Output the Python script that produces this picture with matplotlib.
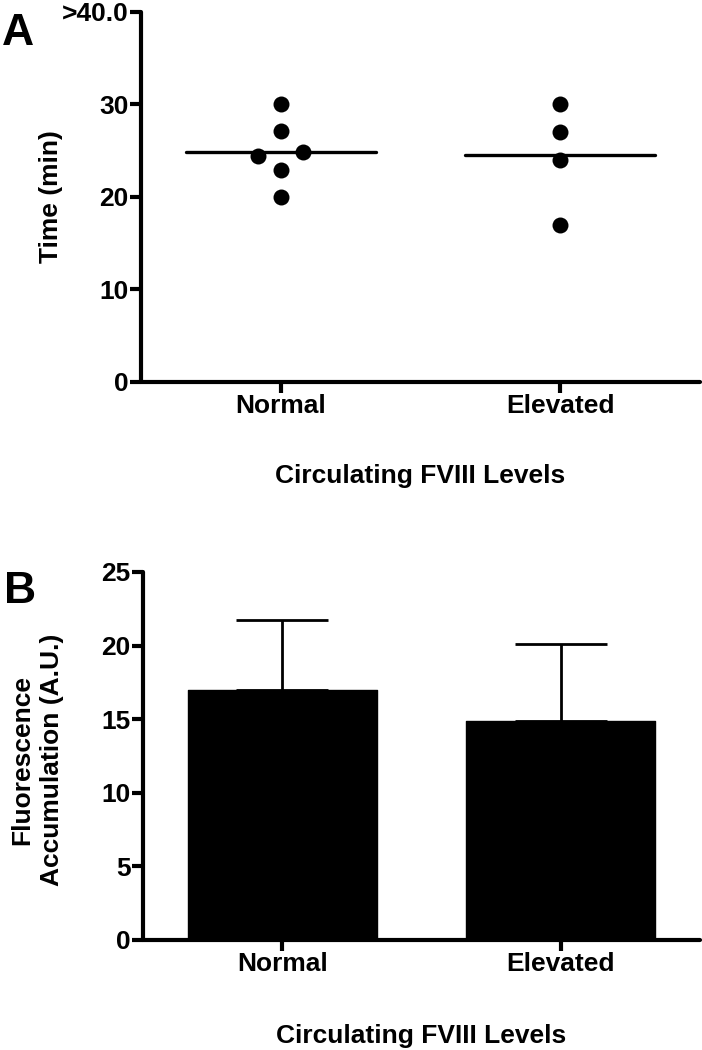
import matplotlib
matplotlib.use("Agg")
import matplotlib.pyplot as plt
import numpy as np

plt.rcParams["font.family"] = ["Liberation Sans", "DejaVu Sans"]
plt.rcParams["font.weight"] = "bold"

# data
groups = ["Normal", "Elevated"]
normal_times = [30.0, 27.1, 24.9, 24.4, 22.9, 20.0]
elevated_times = [30.0, 27.0, 24.0, 17.0]
a_yticks = [0, 10, 20, 30, 40]
a_yticklabels = ["0", "10", "20", "30", ">40.0"]

fluor_mean = [17.0, 14.85]
fluor_sd = [4.75, 5.25]
b_yticks = [0, 5, 10, 15, 20, 25]

xlabel = "Circulating FVIII Levels"

# swarm layout (horizontal offsets of dots, axis units)
normal_dx = [0, 0, 0.08, -0.08, 0, 0]
elevated_dx = [0, 0, 0, 0]

LW = 3.0
FS = 19


def style_axis(ax):
    for side in ["top", "right"]:
        ax.spines[side].set_visible(False)
    for side in ["left", "bottom"]:
        ax.spines[side].set_linewidth(LW)
        ax.spines[side].set_capstyle("round")
    ax.tick_params(axis="both", length=8, width=LW, direction="out", labelsize=FS)
    ax.tick_params(axis="y", pad=1)
    ax.tick_params(axis="x", pad=1)
    for lab in ax.get_xticklabels() + ax.get_yticklabels():
        lab.set_fontweight("bold")


fig = plt.figure(figsize=(7.02, 10.5), dpi=100)

# panel A
ax1 = fig.add_axes([0.2009, 0.6362, 0.796, 0.3524])
x_pos = np.arange(1, len(groups) + 1)
for xc, vals, dx in zip(x_pos, [normal_times, elevated_times], [normal_dx, elevated_dx]):
    ax1.plot(xc + np.array(dx), vals, "o", color="black", markersize=11.5,
             markeredgewidth=0, zorder=3, clip_on=False)
    m = np.mean(vals)
    ax1.plot([xc - 0.34, xc + 0.34], [m, m], color="black", lw=2.4,
             solid_capstyle="round", zorder=2)
ax1.set_xlim(0.5, 2.5)
ax1.set_ylim(0, 40)
ax1.set_yticks(a_yticks)
ax1.set_yticklabels(a_yticklabels)
ax1.set_xticks(x_pos)
ax1.set_xticklabels(groups)
style_axis(ax1)
ax1.set_ylabel("Time (min)", fontsize=FS, fontweight="bold", va="center")
ax1.yaxis.set_label_coords(-0.161, 0.5)
ax1.set_xlabel(xlabel, fontsize=FS, fontweight="bold", va="baseline")
ax1.xaxis.set_label_coords(0.5, -0.273)
fig.text(0.003, 0.957, "A", fontsize=32, fontweight="bold", va="baseline", ha="left")

# panel B
ax2 = fig.add_axes([0.2037, 0.1048, 0.7934, 0.3505])
ax2.bar(x_pos, fluor_mean, width=0.68, color="black", edgecolor="black",
        linewidth=1.0, joinstyle="round", zorder=2)
ax2.errorbar(x_pos, fluor_mean, yerr=[np.zeros(len(fluor_sd)), fluor_sd],
             fmt="none", ecolor="black", elinewidth=2.0, capsize=33,
             capthick=2.0, zorder=1)
ax2.set_xlim(0.5, 2.5)
ax2.set_ylim(0, 25)
ax2.set_yticks(b_yticks)
ax2.set_xticks(x_pos)
ax2.set_xticklabels(groups)
style_axis(ax2)
ax2.set_ylabel("Fluorescence\nAccumulation (A.U.)", fontsize=FS, fontweight="bold",
               linespacing=1.3, va="center")
ax2.yaxis.set_label_coords(-0.19, 0.49)
ax2.set_xlabel(xlabel, fontsize=FS, fontweight="bold", va="baseline")
ax2.xaxis.set_label_coords(0.5, -0.28)
fig.text(0.006, 0.4257, "B", fontsize=32, fontweight="bold", va="baseline", ha="left")

fig.savefig("out.png", dpi=100)
